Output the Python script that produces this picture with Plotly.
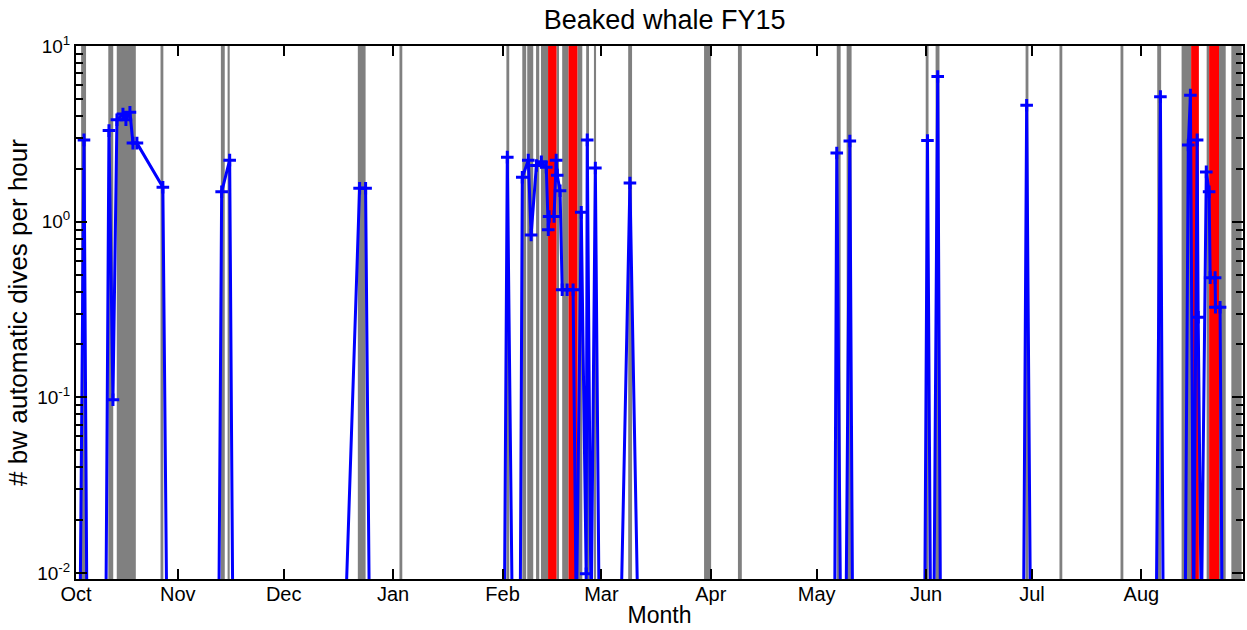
import numpy as np
import pandas as pd
import plotly.graph_objects as go

BASE = pd.Timestamp("2014-10-01")

# Detection series: days since 2014-10-01 and dives per hour (0 = no detections)
det_day = [3.28, 4.41, 5.26,
           10.6, 11.49, 12.62, 13.75, 15.45, 16.29, 17.43, 18.28, 19.41, 26.76, 27.9,
           42.6, 43.42, 45.69, 46.6,
           78.4, 82.5, 84.2, 85.3,
           123.5, 124.35, 125.8,
           128.0, 128.6, 130.3, 131.1, 132.6, 134.0, 135.4, 135.96, 136.2, 137.6, 138.2,
           138.5, 139.3, 139.9, 141.3, 143.0, 143.9,
           145.3, 146.7, 147.0, 148.1, 149.3, 150.4,
           156.5, 159.1, 161.4,
           217.1, 217.7, 218.8, 220.3, 221.4, 222.2,
           242.6, 243.4, 244.3, 245.2, 246.3, 247.1,
           270.6, 271.5, 272.6,
           308.2, 309.4, 310.2,
           316.4, 317.3, 317.9, 318.8, 319.8, 320.1, 321.0, 322.4, 323.2, 323.5, 324.9,
           325.0, 326.3, 326.9]
det_rate = [0, 2.92, 0,
            0, 3.3, 0.097, 3.8, 4.1, 3.8, 4.2, 2.8, 2.8, 1.57, 0,
            0, 1.48, 2.24, 0,
            0, 1.55, 1.55, 0,
            0, 2.33, 0,
            0, 1.79, 2.24, 0.84, 2.09, 2.19, 2.04, 0.9, 1.07, 1.07, 2.24,
            1.84, 1.5, 0.41, 0.41, 0.41, 0,
            1.13, 0.0099, 2.92, 0, 2.02, 0,
            0, 1.66, 0,
            0, 2.46, 0, 0, 2.88, 0,
            0, 2.9, 0, 0, 6.7, 0,
            0, 4.6, 0,
            0, 5.15, 0,
            0, 2.73, 5.25, 0, 2.92, 0.286, 0, 1.92, 1.48, 0.48, 0.48,
            0.326, 0.326, 0]

# Shaded periods (days since 2014-10-01)
grey_start = [3.6, 11.3, 13.7, 26.1, 43.2, 45.1, 82.0, 93.8, 124.1, 128.6, 130.0, 132.5,
              133.9, 138.3, 139.9, 144.2, 146.7, 148.9, 158.6, 180.1, 189.7, 217.7,
              220.5, 242.9, 245.7, 271.2, 280.8, 298.1, 308.5, 315.4, 322.5, 326.0, 329.5]
grey_end = [5.0, 12.7, 19.1, 26.9, 44.3, 45.7, 84.2, 94.6, 124.9, 129.7, 131.7, 133.4,
            135.9, 139.0, 141.7, 145.6, 147.5, 149.5, 159.7, 182.1, 190.8, 218.8,
            221.9, 243.7, 246.8, 272.0, 281.6, 298.9, 309.6, 318.1, 323.2, 327.9, 332.4]
red_start = [135.9, 141.7, 318.1, 323.2]
red_end = [138.3, 144.2, 320.3, 326.0]

month_labels = ["Oct", "Nov", "Dec", "Jan", "Feb", "Mar", "Apr", "May", "Jun", "Jul", "Aug"]
month_days = [2.15, 31, 61, 92, 123, 151, 182, 212, 243, 273, 304]
x_range_days = [2.15, 332.8]

y_tick_vals = [0.01, 0.1, 1, 10]
y_tick_text = ["10<sup>-2</sup>", "10<sup>-1</sup>", "10<sup>0</sup>", "10<sup>1</sup>"]
y_minor_vals = [m * 10.0 ** k for k in (-2, -1, 0) for m in range(2, 10)]

FLOOR = 0.005  # display floor for zero values on the log axis


def to_dt(d):
    return [(BASE + pd.Timedelta(days=float(v))).isoformat() for v in d]


FONT = "Liberation Sans, Arial, Helvetica, sans-serif"

fig = go.Figure()

shapes = []
for s, e in zip(grey_start, grey_end):
    x0, x1 = to_dt([s, e])
    shapes.append(dict(type="rect", xref="x", yref="paper", x0=x0, x1=x1, y0=0, y1=1,
                       fillcolor="#808080", line=dict(width=0), layer="below"))
for s, e in zip(red_start, red_end):
    x0, x1 = to_dt([s, e])
    shapes.append(dict(type="rect", xref="x", yref="paper", x0=x0, x1=x1, y0=0, y1=1,
                       fillcolor="#FF0000", line=dict(width=0), layer="below"))

yplot = np.where(np.array(det_rate) > 0, np.array(det_rate), FLOOR)

fig.add_trace(go.Scatter(
    x=to_dt(det_day), y=yplot, mode="lines+markers",
    line=dict(color="#0000FF", width=3),
    marker=dict(symbol="cross-thin", size=9, color="#0000FF",
                line=dict(width=3, color="#0000FF")),
    showlegend=False, cliponaxis=True,
))

fig.update_layout(
    width=1247, height=630,
    margin=dict(l=76, r=2, t=46, b=51),
    paper_bgcolor="white", plot_bgcolor="white",
    shapes=shapes,
    font=dict(family=FONT, size=20, color="black"),
    title=dict(text="Beaked whale FY15", x=0.533, xanchor="center", y=1 - 20 / 630,
               yanchor="middle", font=dict(family=FONT, size=27, color="black")),
)

fig.update_xaxes(
    type="date",
    range=to_dt(x_range_days),
    tickmode="array", tickvals=to_dt(month_days), ticktext=month_labels,
    ticks="inside", ticklen=10, tickwidth=2, tickcolor="black",
    ticklabelstandoff=-4,
    showline=True, linecolor="black", linewidth=2, mirror="ticks",
    showgrid=False, zeroline=False,
    tickfont=dict(family=FONT, size=20, color="black"),
    title=dict(text="Month", standoff=3, font=dict(family=FONT, size=23, color="black")),
)

fig.update_yaxes(
    type="log",
    range=[-2.034, 1],
    tickmode="array", tickvals=y_tick_vals, ticktext=y_tick_text,
    ticks="inside", ticklen=11, tickwidth=2, tickcolor="black",
    minor=dict(tickmode="array", tickvals=y_minor_vals, ticks="inside", ticklen=7,
               tickwidth=2, tickcolor="black", showgrid=False),
    showline=True, linecolor="black", linewidth=2, mirror="ticks",
    showgrid=False, zeroline=False,
    tickfont=dict(family=FONT, size=19, color="black"),
    title=dict(text="# bw automatic dives per hour", standoff=2,
               font=dict(family=FONT, size=26, color="black")),
)

fig.write_html("out.html")
